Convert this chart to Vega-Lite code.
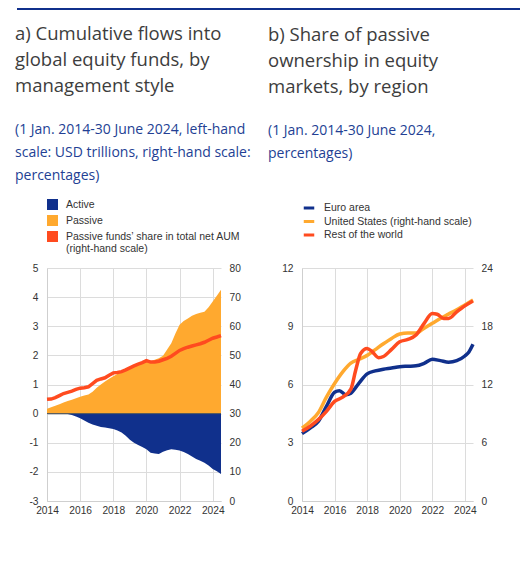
{
  "$schema": "https://vega.github.io/schema/vega-lite/v6.json",
  "background": "white",
  "padding": {"left": 15, "top": 6, "right": 0, "bottom": 0},
  "config": {
    "view": {"stroke": null},
    "font": "Liberation Sans",
    "axis": {"labelFontSize": 10.2, "labelColor": "#333333", "ticks": false, "title": null, "gridColor": "#dcdcdc", "domainColor": "#cfcfcf", "labelOverlap": false},
    "title": {"font": "Open Sans", "fontSize": 18.5, "fontWeight": "normal", "color": "#3d3d3d", "lineHeight": 26, "subtitleFont": "Open Sans", "subtitleFontSize": 14, "subtitleColor": "#233f94", "subtitleLineHeight": 23, "subtitlePadding": 28, "anchor": "start", "frame": "group"},
    "legend": {"labelFontSize": 10.5, "labelColor": "#333333", "title": null, "orient": "top", "direction": "vertical", "labelLimit": 300}
  },
  "spacing": -15,
  "vconcat": [
    {
      "width": 510,
      "height": 1,
      "data": {"values": [{"x": 0}]},
      "mark": {"type": "point", "opacity": 0},
      "encoding": {
        "x": {
          "field": "x",
          "type": "quantitative",
          "scale": {"domain": [0, 1]},
          "axis": {"orient": "top", "domainColor": "#10308c", "domainWidth": 2, "labels": false, "ticks": false, "grid": false, "translate": -30, "offset": -30}
        }
      }
    },
    {
      "resolve": {"scale": {"color": "independent"}, "legend": {"color": "independent"}},
      "spacing": 17,
      "hconcat": [
        {
          "width": 174,
          "height": 233,
          "title": {
            "text": ["a) Cumulative flows into", "global equity funds, by", "management style"],
            "subtitle": ["(1 Jan. 2014-30 June 2024, left-hand", "scale: USD trillions, right-hand scale:", "percentages)"],
            "dx": -32,
            "offset": 16
          },
          "data": {
            "values": [
              {"t": 2014.0, "Active": 0, "Passive": 0.17, "share": 34.9},
              {"t": 2014.25, "Active": 0, "Passive": 0.22, "share": 35.0},
              {"t": 2014.5, "Active": 0, "Passive": 0.27, "share": 35.5},
              {"t": 2014.75, "Active": 0, "Passive": 0.32, "share": 36.2},
              {"t": 2015.0, "Active": 0, "Passive": 0.38, "share": 36.9},
              {"t": 2015.25, "Active": -0.01, "Passive": 0.43, "share": 37.3},
              {"t": 2015.5, "Active": -0.05, "Passive": 0.48, "share": 37.7},
              {"t": 2015.75, "Active": -0.1, "Passive": 0.53, "share": 38.3},
              {"t": 2016.0, "Active": -0.16, "Passive": 0.58, "share": 38.75},
              {"t": 2016.25, "Active": -0.24, "Passive": 0.62, "share": 38.9},
              {"t": 2016.5, "Active": -0.31, "Passive": 0.66, "share": 39.2},
              {"t": 2016.75, "Active": -0.37, "Passive": 0.75, "share": 40.3},
              {"t": 2017.0, "Active": -0.42, "Passive": 0.89, "share": 41.4},
              {"t": 2017.25, "Active": -0.46, "Passive": 1.0, "share": 41.9},
              {"t": 2017.5, "Active": -0.48, "Passive": 1.1, "share": 42.3},
              {"t": 2017.75, "Active": -0.5, "Passive": 1.2, "share": 43.2},
              {"t": 2018.0, "Active": -0.53, "Passive": 1.28, "share": 44.0},
              {"t": 2018.25, "Active": -0.58, "Passive": 1.36, "share": 44.1},
              {"t": 2018.5, "Active": -0.65, "Passive": 1.44, "share": 44.4},
              {"t": 2018.75, "Active": -0.76, "Passive": 1.52, "share": 45.0},
              {"t": 2019.0, "Active": -0.9, "Passive": 1.6, "share": 45.7},
              {"t": 2019.25, "Active": -1.0, "Passive": 1.66, "share": 46.4},
              {"t": 2019.5, "Active": -1.08, "Passive": 1.72, "share": 47.0},
              {"t": 2019.75, "Active": -1.15, "Passive": 1.77, "share": 47.5},
              {"t": 2020.0, "Active": -1.22, "Passive": 1.8, "share": 48.2},
              {"t": 2020.25, "Active": -1.34, "Passive": 1.8, "share": 47.7},
              {"t": 2020.5, "Active": -1.37, "Passive": 1.85, "share": 47.7},
              {"t": 2020.75, "Active": -1.39, "Passive": 1.9, "share": 48.0},
              {"t": 2021.0, "Active": -1.31, "Passive": 1.99, "share": 48.5},
              {"t": 2021.25, "Active": -1.26, "Passive": 2.2, "share": 49.0},
              {"t": 2021.5, "Active": -1.22, "Passive": 2.42, "share": 49.7},
              {"t": 2021.75, "Active": -1.24, "Passive": 2.75, "share": 50.7},
              {"t": 2022.0, "Active": -1.27, "Passive": 3.05, "share": 51.7},
              {"t": 2022.25, "Active": -1.32, "Passive": 3.18, "share": 52.3},
              {"t": 2022.5, "Active": -1.39, "Passive": 3.27, "share": 52.8},
              {"t": 2022.75, "Active": -1.47, "Passive": 3.36, "share": 53.2},
              {"t": 2023.0, "Active": -1.56, "Passive": 3.42, "share": 53.6},
              {"t": 2023.25, "Active": -1.62, "Passive": 3.46, "share": 54.0},
              {"t": 2023.5, "Active": -1.69, "Passive": 3.5, "share": 54.5},
              {"t": 2023.75, "Active": -1.78, "Passive": 3.65, "share": 55.2},
              {"t": 2024.0, "Active": -1.9, "Passive": 3.85, "share": 55.9},
              {"t": 2024.25, "Active": -1.98, "Passive": 4.05, "share": 56.3},
              {"t": 2024.5, "Active": -2.07, "Passive": 4.25, "share": 56.8}
            ]
          },
          "layer": [
            {
              "transform": [{"fold": ["Active", "Passive"], "as": ["s", "v"]}],
              "mark": {"type": "area"},
              "encoding": {
                "x": {
                  "field": "t",
                  "type": "quantitative",
                  "scale": {"domain": [2014, 2024.5], "nice": false, "zero": false},
                  "axis": {"values": [2014, 2016, 2018, 2020, 2022, 2024], "format": "d", "grid": true, "labelPadding": 4, "labelOverlap": false, "labelSeparation": 0, "labelFlush": false}
                },
                "y": {
                  "field": "v",
                  "type": "quantitative",
                  "stack": null,
                  "scale": {"domain": [-3, 5], "nice": false},
                  "axis": {"values": [-3, -2, -1, 0, 1, 2, 3, 4, 5], "grid": true, "orient": "left", "labelPadding": 9, "labelExpr": "replace(datum.label, '−', '-')"}
                },
                "color": {
                  "field": "s",
                  "type": "nominal",
                  "scale": {"domain": ["Active", "Passive", "Passive funds’ share in total net AUM"], "range": ["#10308c", "#ffa92f", "#ff4b1f"]},
                  "legend": {
                    "offset": 13,
                    "symbolType": "square",
                    "symbolSize": 90,
                    "rowPadding": -1,
                    "labelOffset": 8,
                    "labelExpr": "indexof(datum.label, 'AUM') >= 0 ? [datum.label, '(right-hand scale)'] : datum.label"
                  }
                }
              }
            },
            {
              "data": {"values": [{"z": 0}]},
              "mark": {"type": "rule", "color": "#44505e", "strokeWidth": 1},
              "encoding": {"y": {"field": "z", "type": "quantitative", "scale": {"domain": [-3, 5], "nice": false}, "axis": null}}
            },
            {
              "mark": {"type": "line", "strokeWidth": 3.5},
              "encoding": {
                "x": {
                  "field": "t",
                  "type": "quantitative",
                  "scale": {"domain": [2014, 2024.5], "nice": false, "zero": false},
                  "axis": {"values": [2014, 2016, 2018, 2020, 2022, 2024], "format": "d", "grid": true, "labelPadding": 4, "labelOverlap": false, "labelSeparation": 0, "labelFlush": false}
                },
                "y": {
                  "field": "share",
                  "type": "quantitative",
                  "scale": {"domain": [0, 80], "nice": false},
                  "axis": {"values": [0, 10, 20, 30, 40, 50, 60, 70, 80], "grid": false, "domain": false, "orient": "right", "labelPadding": 8}
                },
                "color": {"datum": "Passive funds’ share in total net AUM"}
              }
            }
          ],
          "resolve": {"scale": {"y": "independent"}}
        },
        {
          "width": 171,
          "height": 233,
          "title": {
            "text": ["b) Share of passive", "ownership in equity", "markets, by region"],
            "subtitle": ["(1 Jan. 2014-30 June 2024,", "percentages)"],
            "dx": -34,
            "offset": 40
          },
          "data": {
            "values": [
              {"t": 2014.0, "s": "Euro area", "v": 3.47},
              {"t": 2014.5, "s": "Euro area", "v": 3.76},
              {"t": 2015.0, "s": "Euro area", "v": 4.1},
              {"t": 2015.5, "s": "Euro area", "v": 4.87},
              {"t": 2016.0, "s": "Euro area", "v": 5.6},
              {"t": 2016.3, "s": "Euro area", "v": 5.68},
              {"t": 2016.7, "s": "Euro area", "v": 5.47},
              {"t": 2017.0, "s": "Euro area", "v": 5.55},
              {"t": 2017.5, "s": "Euro area", "v": 6.07},
              {"t": 2018.0, "s": "Euro area", "v": 6.55},
              {"t": 2018.5, "s": "Euro area", "v": 6.7},
              {"t": 2019.0, "s": "Euro area", "v": 6.79},
              {"t": 2019.5, "s": "Euro area", "v": 6.85},
              {"t": 2020.0, "s": "Euro area", "v": 6.92},
              {"t": 2020.5, "s": "Euro area", "v": 6.94},
              {"t": 2021.0, "s": "Euro area", "v": 6.96},
              {"t": 2021.5, "s": "Euro area", "v": 7.09},
              {"t": 2022.0, "s": "Euro area", "v": 7.3},
              {"t": 2022.5, "s": "Euro area", "v": 7.23},
              {"t": 2023.0, "s": "Euro area", "v": 7.15},
              {"t": 2023.5, "s": "Euro area", "v": 7.23},
              {"t": 2024.0, "s": "Euro area", "v": 7.47},
              {"t": 2024.25, "s": "Euro area", "v": 7.68},
              {"t": 2024.5, "s": "Euro area", "v": 8.07},
              {"t": 2014.0, "s": "United States (right-hand scale)", "v": 7.5},
              {"t": 2014.5, "s": "United States (right-hand scale)", "v": 8.2},
              {"t": 2015.0, "s": "United States (right-hand scale)", "v": 9.1},
              {"t": 2015.5, "s": "United States (right-hand scale)", "v": 10.7},
              {"t": 2016.0, "s": "United States (right-hand scale)", "v": 12.1},
              {"t": 2016.5, "s": "United States (right-hand scale)", "v": 13.3},
              {"t": 2017.0, "s": "United States (right-hand scale)", "v": 14.2},
              {"t": 2017.5, "s": "United States (right-hand scale)", "v": 14.6},
              {"t": 2018.0, "s": "United States (right-hand scale)", "v": 15.0},
              {"t": 2018.5, "s": "United States (right-hand scale)", "v": 15.6},
              {"t": 2019.0, "s": "United States (right-hand scale)", "v": 16.2},
              {"t": 2019.5, "s": "United States (right-hand scale)", "v": 16.75},
              {"t": 2020.0, "s": "United States (right-hand scale)", "v": 17.2},
              {"t": 2020.5, "s": "United States (right-hand scale)", "v": 17.3},
              {"t": 2021.0, "s": "United States (right-hand scale)", "v": 17.3},
              {"t": 2021.5, "s": "United States (right-hand scale)", "v": 17.8},
              {"t": 2022.0, "s": "United States (right-hand scale)", "v": 18.3},
              {"t": 2022.5, "s": "United States (right-hand scale)", "v": 18.8},
              {"t": 2023.0, "s": "United States (right-hand scale)", "v": 19.25},
              {"t": 2023.5, "s": "United States (right-hand scale)", "v": 19.7},
              {"t": 2024.0, "s": "United States (right-hand scale)", "v": 20.2},
              {"t": 2024.5, "s": "United States (right-hand scale)", "v": 20.7},
              {"t": 2014.0, "s": "Rest of the world", "v": 3.59},
              {"t": 2014.5, "s": "Rest of the world", "v": 3.85},
              {"t": 2015.0, "s": "Rest of the world", "v": 4.19},
              {"t": 2015.5, "s": "Rest of the world", "v": 4.62},
              {"t": 2016.0, "s": "Rest of the world", "v": 5.13},
              {"t": 2016.5, "s": "Rest of the world", "v": 5.35},
              {"t": 2017.0, "s": "Rest of the world", "v": 5.76},
              {"t": 2017.3, "s": "Rest of the world", "v": 6.75},
              {"t": 2017.6, "s": "Rest of the world", "v": 7.6},
              {"t": 2018.0, "s": "Rest of the world", "v": 7.86},
              {"t": 2018.3, "s": "Rest of the world", "v": 7.7},
              {"t": 2018.7, "s": "Rest of the world", "v": 7.38},
              {"t": 2019.0, "s": "Rest of the world", "v": 7.44},
              {"t": 2019.5, "s": "Rest of the world", "v": 7.81},
              {"t": 2020.0, "s": "Rest of the world", "v": 8.2},
              {"t": 2020.5, "s": "Rest of the world", "v": 8.32},
              {"t": 2021.0, "s": "Rest of the world", "v": 8.55},
              {"t": 2021.5, "s": "Rest of the world", "v": 9.15},
              {"t": 2022.0, "s": "Rest of the world", "v": 9.66},
              {"t": 2022.3, "s": "Rest of the world", "v": 9.62},
              {"t": 2022.7, "s": "Rest of the world", "v": 9.4},
              {"t": 2023.0, "s": "Rest of the world", "v": 9.4},
              {"t": 2023.5, "s": "Rest of the world", "v": 9.74},
              {"t": 2024.0, "s": "Rest of the world", "v": 10.05},
              {"t": 2024.5, "s": "Rest of the world", "v": 10.3}
            ]
          },
          "layer": [
            {
              "transform": [{"filter": "datum.s == 'United States (right-hand scale)'"}],
              "mark": {"type": "line", "strokeWidth": 3.5, "interpolate": "monotone"},
              "encoding": {
                "x": {
                  "field": "t",
                  "type": "quantitative",
                  "scale": {"domain": [2014, 2024.5], "nice": false, "zero": false},
                  "axis": {"values": [2014, 2016, 2018, 2020, 2022, 2024], "format": "d", "grid": true, "labelPadding": 4, "labelOverlap": false, "labelSeparation": 0, "labelFlush": false}
                },
                "y": {
                  "field": "v",
                  "type": "quantitative",
                  "scale": {"domain": [0, 24], "nice": false},
                  "axis": {"values": [0, 6, 12, 18, 24], "grid": false, "domain": false, "orient": "right", "labelPadding": 8}
                },
                "color": {
                  "field": "s",
                  "type": "nominal",
                  "scale": {"domain": ["Euro area", "United States (right-hand scale)", "Rest of the world"], "range": ["#10308c", "#ffa92f", "#ff4b1f"]},
                  "legend": {"offset": 27, "symbolType": "stroke", "symbolStrokeWidth": 3, "symbolSize": 110, "rowPadding": 0.5, "labelOffset": 8}
                }
              }
            },
            {
              "transform": [{"filter": "datum.s != 'United States (right-hand scale)'"}],
              "mark": {"type": "line", "strokeWidth": 3.5, "interpolate": "monotone"},
              "encoding": {
                "x": {
                  "field": "t",
                  "type": "quantitative",
                  "scale": {"domain": [2014, 2024.5], "nice": false, "zero": false},
                  "axis": {"values": [2014, 2016, 2018, 2020, 2022, 2024], "format": "d", "grid": true, "labelPadding": 4, "labelOverlap": false, "labelSeparation": 0, "labelFlush": false}
                },
                "y": {
                  "field": "v",
                  "type": "quantitative",
                  "scale": {"domain": [0, 12], "nice": false},
                  "axis": {"values": [0, 3, 6, 9, 12], "grid": true, "orient": "left", "labelPadding": 9}
                },
                "color": {"field": "s", "type": "nominal"}
              }
            }
          ],
          "resolve": {"scale": {"y": "independent"}}
        }
      ]
    }
  ]
}
